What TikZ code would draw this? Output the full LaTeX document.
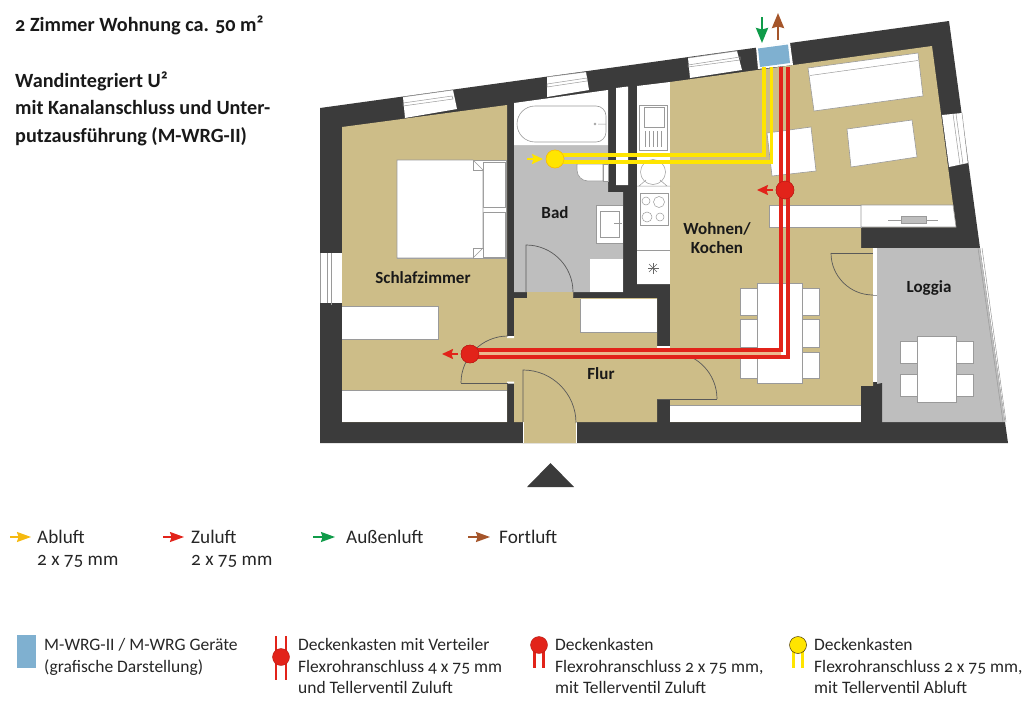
\documentclass[tikz,border=0pt]{standalone}
\usepackage{fontspec}
\setmainfont[Numbers=OldStyle]{Carlito}
\usetikzlibrary{arrows.meta}
\definecolor{wall}{HTML}{3B3B3B}
\definecolor{tan}{HTML}{CDBD88}
\definecolor{greyroom}{HTML}{BEBEBE}
\definecolor{lin}{HTML}{9A9A9A}
\definecolor{blue1}{HTML}{7FB0D0}
\definecolor{red1}{HTML}{E2231A}
\definecolor{yel1}{HTML}{FFE500}
\definecolor{yel2}{HTML}{F5B90F}
\definecolor{green1}{HTML}{0F9B49}
\definecolor{brown1}{HTML}{A5552A}
\definecolor{peach}{HTML}{EDB98F}
\tikzset{
  furn/.style={fill=white,draw=lin,line width=.6pt},
  plain/.style={fill=white},
  thin1/.style={draw=lin,line width=.5pt},
  doorline/.style={draw=black!65,line width=.7pt},
  redpipe/.style={draw=red1,line width=3.4pt},
  yelpipe/.style={draw=yel1,line width=3.4pt},
  redvalve/.style={circle,fill=red1,draw=red1!80!black,line width=.4pt,minimum size=18pt,inner sep=0pt},
  yelvalve/.style={circle,fill=yel1,draw=yel2,line width=.5pt,minimum size=18pt,inner sep=0pt},
  flow/.style={-{Stealth[length=14pt,width=10pt,inset=1.5pt]},line width=1.3pt},
  shortflow/.style={-{Stealth[length=11pt,width=10pt,inset=1.5pt]},line width=1.6pt},
  bigflow/.style={-{Stealth[length=15pt,width=12pt,inset=1.5pt]},line width=2.4pt},
  room/.style={font=\fontsize{17}{19}\selectfont\bfseries,text=black!90,align=center,inner sep=0pt},
  title/.style={font=\fontsize{20.2}{24}\selectfont\bfseries,text=black!90,anchor=base west,inner sep=0pt,align=left},
  leg/.style={font=\fontsize{19.2}{22}\selectfont,text=black!85,anchor=base west,inner sep=0pt,align=left},
  legsm/.style={font=\fontsize{17.5}{21.5}\selectfont,text=black!85,anchor=base west,inner sep=0pt,align=left},
}
\begin{document}
\begin{tikzpicture}[x=1pt,y=-1pt]
\useasboundingbox (0,0) rectangle (1024,720);
% shell
\fill[wall] (320,108)--(949,21)--(980,248)--(1008,443)--(320,443)--cycle;
% bedroom
\fill[tan] (342,127)--(507,105)--(507,336)--(514,336)--(514,383)--(507,383)--(507,422)--(342,422)--cycle;
% bath
\fill[greyroom] (514,145)--(608,145)--(608,192)--(623,192)--(623,292)--(573,292)--(573,297)--(527,297)--(527,292)--(514,292)--cycle;
\fill[white] (514,103)--(608,90)--(608,145)--(514,145)--cycle;
% flur
\fill[tan] (514,298)--(527,298)--(527,292)--(573,292)--(573,298)--(657,298)--(657,348)--(670,348)--(670,399)--(657,399)--(657,422)--(576,422)--(576,443)--(523,443)--(523,422)--(514,422)--cycle;
\draw[white,line width=.8pt] (523,422)--(523,443) (576,422)--(576,443);
% kitchen
\fill[white] (637,86)--(670,82)--(670,284)--(637,284)--cycle;
% shaft
\fill[white] (616,88)--(628,86.5)--(628,185)--(616,185)--cycle;
% living
\fill[tan] (670,82)--(932,46)--(956,227)--(861,227)--(861,248)--(873,248)--(873,386)--(861,386)--(861,422)--(670,422)--(670,399)--(657,399)--(657,348)--(670,348)--cycle;
\fill[plain] (670,405) rectangle (861,422);
\draw[thin1] (670,405)--(861,405);
% loggia
\fill[white] (873,248)--(877,248)--(877,382)--(873,382)--cycle;
\draw[thin1] (877,248)--(877,382) (873,295)--(877,295);
\fill[greyroom] (877,248)--(980,248)--(1005,422)--(882,422)--(882,384)--(877,384)--cycle;
\draw[thin1] (978,248)--(1003,422) (982,248)--(1006,422);
\fill[wall] (861,386)--(873,386)--(877,384)--(882,383)--(882,422)--(861,422)--cycle;
% windows
\fill[white] (403,97)--(453,90)--(457,109)--(405,118)--cycle;
\draw[thin1] (403,97)--(453,90) (403,103)--(452,96)--(453,99)--(403,106)--cycle;
\fill[white] (547,77)--(586,72)--(589,90)--(547,97)--cycle;
\draw[thin1] (547,77)--(586,72) (547,84)--(587,78)--(587,81)--(547,87)--cycle;
\fill[white] (688,58)--(737,51)--(742,70)--(690,78)--cycle;
\draw[thin1] (688,58)--(737,51) (688,65)--(740,57)--(740,60)--(688,67)--cycle;
\fill[white] (942,115)--(962,113)--(968,163)--(949,167)--cycle;
\draw[thin1] (962,113)--(968,163) (953,114)--(960,165) (956,114)--(963,164);
\fill[white] (320,253)--(342,253)--(342,303)--(320,303)--cycle;
\draw[thin1] (327,253)--(327,303) (331,253)--(331,305) (320,253)--(320,303);
% bedroom furniture
\fill[plain] (342,390) rectangle (507,422);
\draw[thin1] (342,390)--(507,390);
\fill[plain] (342,306) rectangle (438,339);
\draw[thin1] (342,306)--(438,306)--(438,339)--(342,339);
\draw[furn] (397,160) rectangle (506,258);
\draw[furn] (483,162) rectangle (505,207);
\draw[furn] (483,212) rectangle (505,257);
\draw[furn] (397,160)--(473,160)--(483,170)--(483,248)--(473,258)--(397,258)--cycle;
\draw[thin1] (473,160)--(473,170)--(483,170) (473,258)--(473,248)--(483,248);
% bath furniture
\draw[furn] (535,106)--(596,106) arc[start angle=-90,end angle=0,radius=10]--(606,132) arc[start angle=0,end angle=90,radius=10]--(535,142) arc[start angle=90,end angle=270,radius=18]--cycle;
\draw[thin1] (595,124) circle[radius=1] (598,124)--(606,124);
\draw[furn] (577,164)--(603,164)--(603,181)--(588,181) arc[start angle=90,end angle=180,radius=11]--cycle;
\draw[furn] (603,164) rectangle (608,181);
\fill[plain] (596,205) rectangle (623,243);
\draw[thin1] (596,205)--(623,205) (596,243)--(623,243) (596,205)--(596,243);
\draw[thin1] (600,211) rectangle (619,237);
\draw[thin1] (614,223)--(622,223);
\fill[plain] (590,259) rectangle (623,292);
% door bath
\draw[doorline] (526,292)--(526,245) arc[start angle=-90,end angle=0,radius=47];
% flur furniture
\fill[plain] (580,299) rectangle (657,332);
\draw[thin1] (580,299)--(580,332)--(657,332);
% kitchen furniture
\draw[thin1] (639,105) rectangle (667,150);
\draw[thin1] (644,107) rectangle (664,127);
\foreach \xx in {645,649,653,657,661} \draw[thin1] (\xx,131)--(\xx,147);
\draw[thin1] (637,156)--(670,156) (639,186)--(646,180) (667,186)--(660,180) (637,186)--(670,186);
\draw[thin1] (653,172) circle[radius=12.5];
\draw[thin1] (640,193) rectangle (668,225);
\draw[thin1] (646,201) circle[radius=4] (659,202) circle[radius=5.5] (647,217) circle[radius=5] (660,217) circle[radius=4];
\draw[thin1] (637,250)--(670,250);
\foreach \aa in {0,45,...,135} \draw[draw=black!60,line width=.4pt] (653,268)++(\aa:5.5)--++(\aa+180:11);
% living furniture
\draw[furn] (808,68)--(918,53)--(923,96)--(814,111)--cycle;
\draw[thin1] (810,75.5)--(918,60.5);
\draw[furn] (847,129)--(912,120)--(917,157)--(851,167)--cycle;
\draw[furn] (767,133)--(811,127)--(816,171)--(772,176)--cycle;
\draw[furn] (769,205) rectangle (861,227);
\draw[furn] (861,205)--(953,205)--(956,227)--(861,227)--cycle;
\draw[thin1] (888,220)--(938,220);
\fill[greyroom] (901,216.5) rectangle (926,223.5);
\draw[thin1] (901,216.5) rectangle (926,223.5);
\draw[furn] (740,288) rectangle (757,315);
\draw[furn] (740,319) rectangle (757,347);
\draw[furn] (740,352) rectangle (757,378);
\draw[furn] (802,288) rectangle (819,315);
\draw[furn] (802,319) rectangle (819,347);
\draw[furn] (802,352) rectangle (819,378);
\draw[furn] (757,283) rectangle (802,383);
% loggia furniture
\draw[furn] (900,341) rectangle (917,363);
\draw[furn] (900,374) rectangle (917,396);
\draw[furn] (956,341) rectangle (973,363);
\draw[furn] (956,374) rectangle (973,396);
\draw[furn] (917,336) rectangle (956,402);
% doors
\fill[white] (507,336) rectangle (514,338) (507,381.5) rectangle (514,383.5);
\fill[white] (657,346) rectangle (670,349);
\draw[doorline] (461,383)--(508,383);
\draw[doorline] (508,336) arc[start angle=-90,end angle=-180,radius=47];
\draw[doorline] (523,422)--(523,370) arc[start angle=-90,end angle=0,radius=53];
\draw[doorline] (831,253)--(873,253);
\draw[doorline] (831,253) arc[start angle=180,end angle=90,radius=42];
\draw[doorline] (657,399)--(717,399);
\draw[doorline] (670,352) arc[start angle=-90,end angle=0,radius=47];
% device
\fill[white] (756,47)--(790,42.5)--(793,65)--(758,69)--cycle;
\fill[blue1] (758,48.5)--(788,44.5)--(790,63)--(760,67)--cycle;
% pipes
\coordinate (yA) at (764,67); \coordinate (yB) at (771.5,67);
\coordinate (rA) at (781,67); \coordinate (rB) at (788,67);
\node[yelvalve] (yv) at (555,159) {};
\node[redvalve] (rv1) at (785,190) {};
\node[redvalve] (rv2) at (470,354) {};
\draw[peach,line width=4.5pt] (rv2)--(781,353.5);
\draw[yelpipe] (yA)--(764,155)--(yv.center |- 0,155);
\draw[yelpipe] (yB)--(771.5,162)--(yv.center |- 0,162);
\draw[redpipe] (rA)--(781,350)--(rv2.center |- 0,350);
\draw[redpipe] (rB)--(788,357)--(rv2.center |- 0,357);
\node[yelvalve] at (yv) {};
\node[redvalve] at (rv1) {};
\node[redvalve] at (rv2) {};
% arrows
\coordinate (a1s) at (527,159); \coordinate (a1e) at (543,159);
\draw[shortflow,yel1] (a1s)--(a1e);
\coordinate (a2s) at (773,190); \coordinate (a2e) at (757,190);
\draw[shortflow,red1] (a2s)--(a2e);
\coordinate (a3s) at (458,354); \coordinate (a3e) at (442,354);
\draw[shortflow,red1] (a3s)--(a3e);
\coordinate (a4s) at (762,17); \coordinate (a4e) at (762,43);
\draw[bigflow,green1] (a4s)--(a4e);
\coordinate (a5s) at (778,40); \coordinate (a5e) at (778,13);
\draw[bigflow,brown1] (a5s)--(a5e);
% entrance
\fill[wall] (527,487)--(574,487)--(550.5,463)--cycle;
% room labels
\node[room] (bad) at (555,213) {Bad};
\node[room] (schlaf) at (423,278) {Schlafzimmer};
\node[room] (wohn) at (717,238) {Wohnen/\\Kochen};
\node[room] (flur) at (601,374) {Flur};
\node[room] (log) at (929,288) {Loggia};
% titles
\node[title] (t1) at (15,31) {2 Zimmer Wohnung ca. 50 m²};
\node[title] (t2) at (15,87) {Wandintegriert U²};
\node[title] (t3) at (15,114) {mit Kanalanschluss und Unter-};
\node[title] (t4) at (15,142) {putzausführung (M-WRG-II)};
% legend top
\coordinate (l1s) at (10,537); \coordinate (l1e) at (31,537);
\draw[flow,yel2] (l1s)--(l1e);
\node[leg] (l1) at (37,543) {Abluft};
\node[leg] (l1b) at (37,565) {2 x 75 mm};
\coordinate (l2s) at (163,537); \coordinate (l2e) at (184,537);
\draw[flow,red1] (l2s)--(l2e);
\node[leg] (l2) at (191,543) {Zuluft};
\node[leg] (l2b) at (191,565) {2 x 75 mm};
\coordinate (l3s) at (313,537); \coordinate (l3e) at (335,537);
\draw[flow,green1] (l3s)--(l3e);
\node[leg] (l3) at (346,543) {Außenluft};
\coordinate (l4s) at (468,537); \coordinate (l4e) at (490,537);
\draw[flow,brown1] (l4s)--(l4e);
\node[leg] (l4) at (499,543) {Fortluft};
% legend bottom
\fill[blue1] (17,635) rectangle (36,668);
\node[legsm] (m1) at (44,650) {M-WRG-II / M-WRG Geräte};
\node[legsm] (m1b) at (44,672) {(grafische Darstellung)};
\draw[draw=red1,line width=2.8pt] (276,636)--(276,680) (286,636)--(286,680);
\node[redvalve,minimum size=17pt] (s1) at (281,657) {};
\node[legsm] (m2) at (298,650) {Deckenkasten mit Verteiler};
\node[legsm] (m2b) at (298,672) {Flexrohranschluss 4 x 75 mm};
\node[legsm] (m2c) at (298,693) {und Tellerventil Zuluft};
\draw[draw=red1,line width=2.8pt] (534.5,645)--(534.5,668) (543.5,645)--(543.5,668);
\node[redvalve,minimum size=17pt] (s2) at (539,645) {};
\node[legsm] (m3) at (555,650) {Deckenkasten};
\node[legsm] (m3b) at (555,672) {Flexrohranschluss 2 x 75 mm,};
\node[legsm] (m3c) at (555,693) {mit Tellerventil Zuluft};
\draw[draw=yel1,line width=2.8pt] (793.5,645)--(793.5,668) (802.5,645)--(802.5,668);
\node[yelvalve,draw=black!70!yel2,minimum size=17pt] (s3) at (798,645) {};
\node[legsm] (m4) at (814,650) {Deckenkasten};
\node[legsm] (m4b) at (814,672) {Flexrohranschluss 2 x 75 mm,};
\node[legsm] (m4c) at (814,693) {mit Tellerventil Abluft};
\end{tikzpicture}
\end{document}
